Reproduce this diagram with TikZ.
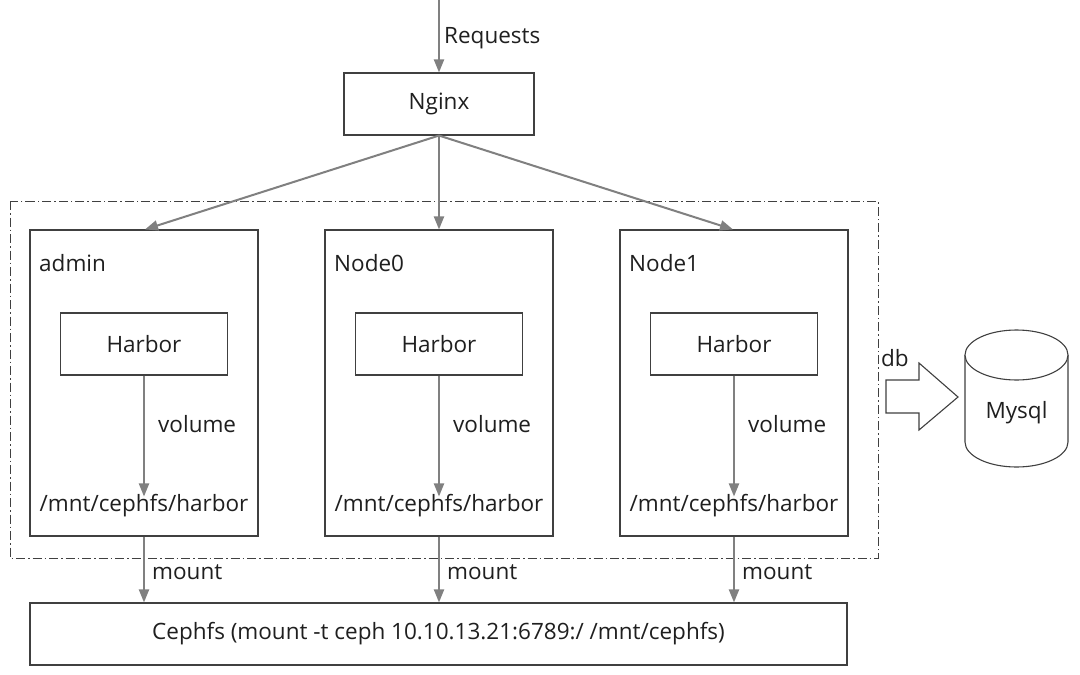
\documentclass[tikz,border=0pt]{standalone}
\usepackage{fontspec}
\setmainfont{Open Sans}
\usetikzlibrary{arrows.meta}
\definecolor{arrowgray}{HTML}{808080}
\definecolor{boxline}{HTML}{404040}
\begin{document}
\begin{tikzpicture}[x=1pt,y=-1pt,
  every node/.style={font=\fontsize{22.5}{27}\selectfont, text=black!88},
  box/.style={draw=boxline, line width=1.1pt, fill=white, inner sep=0pt},
  arr/.style={draw=arrowgray, line width=2pt, -{Triangle[length=13pt,width=10pt]}},
  lbl/.style={anchor=west, inner sep=0pt}]
\useasboundingbox (0,0) rectangle (1080,675);
\fill[white] (0,0) rectangle (1080,675);
% dash-dot region
\draw[boxline, line width=1pt, dash pattern=on 9pt off 3pt on 1.5pt off 3pt] (10,201) rectangle (878,558);
% top
\coordinate (rq) at (439,0);
\node[box, minimum width=190pt, minimum height=62pt] (nginx) at (439,104) {Nginx};
\draw[arr] (rq) -- (nginx.north);
\node[lbl] (rqlbl) at (444,38) {Requests};
% hosts
\foreach \n/\cx/\t in {a/144/admin, b/439/Node0, c/734/Node1}{
  \node[box, minimum width=228pt, minimum height=306pt] (host\n) at (\cx,383) {};
  \node[lbl] (name\n) at (\cx-105,263) {\t};
  \node[box, minimum width=167pt, minimum height=62pt] (harbor\n) at (\cx,344) {Harbor};
  \node[inner sep=0pt] (path\n) at (\cx,506) {/mnt/cephfs/harbor};
  \draw[arr] (harbor\n.south) -- ([yshift=-2pt]path\n.north);
  \node[lbl] (vol\n) at (\cx+14,424) {volume};
  \node[lbl] (mnt\n) at (\cx+8,572) {mount};
}
\draw[arr] (nginx.south) -- ([xshift=1pt]hosta.north);
\draw[arr] (nginx.south) -- (hostb.north);
\draw[arr] (nginx.south) -- ([xshift=-1pt]hostc.north);
% cephfs
\node[box, minimum width=817pt, minimum height=62pt] (ceph) at (438.5,634) {Cephfs (mount -t ceph 10.10.13.21:6789:/ /mnt/cephfs)};
\draw[arr] (hosta.south) -- (ceph.north -| hosta.south);
\draw[arr] (hostb.south) -- (ceph.north -| hostb.south);
\draw[arr] (hostc.south) -- (ceph.north -| hostc.south);
% db block arrow
\draw[boxline, line width=1.1pt, fill=white] (886,380) -- (919,380) -- (919,363) -- (958,397) -- (919,430) -- (919,413) -- (886,413) -- cycle;
\node[lbl] (dblbl) at (881,358) {db};
% mysql cylinder
\draw[boxline, line width=1.1pt, fill=white] (965,355) -- (965,442) arc[start angle=180, end angle=360, x radius=51.5pt, y radius=25pt] -- (1068,355);
\draw[boxline, line width=1.1pt, fill=white] (1016.5,355) ellipse[x radius=51.5pt, y radius=25pt];
\node (mysql) at (1016.5,413) {Mysql};
\end{tikzpicture}
\end{document}
